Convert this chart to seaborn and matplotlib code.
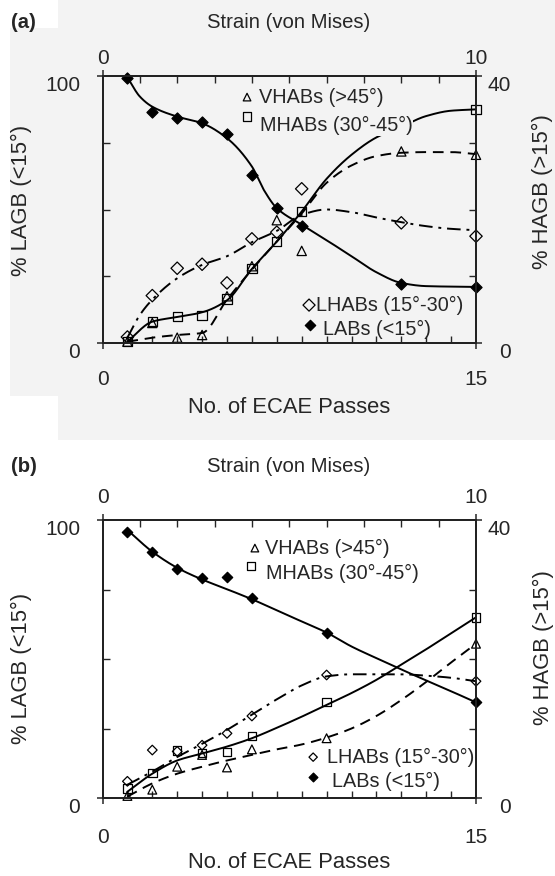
import numpy as np
import pandas as pd
import matplotlib
matplotlib.use("Agg")
import matplotlib.pyplot as plt
from matplotlib.patches import Rectangle
from matplotlib.ticker import FixedLocator
import seaborn as sns

sns.set_theme(style="white")
plt.rcParams['font.family'] = ['Liberation Sans', 'DejaVu Sans']

# ---------------- data: panel (a) ----------------
# LAB values on left axis (% LAGB), HAB values on right axis (% HAGB)
PASS_A = [1, 2, 3, 4, 5, 6, 7, 8, 12, 15]
LAB_A = [99.1, 86.7, 84.2, 82.9, 78.3, 62.8, 50.5, 43.9, 22.0, 21.0]
VHAB_A = [0.2, 3.0, 0.8, 1.2, 7.0, 11.5, 18.4, 13.8, 28.7, 28.2]
LHAB_A = [0.9, 7.1, 11.2, 11.8, 9.0, 15.6, 16.6, 23.1, 18.0, 16.0]
PASS_A_M = [1, 2, 3, 4, 5, 6, 7, 8, 15]
MHAB_A = [0.2, 3.2, 4.0, 4.1, 6.6, 11.2, 15.2, 19.7, 35.0]

# trend-line knots
CX_A = [1, 2, 3, 4, 5, 6, 7, 8, 9, 10, 11, 12, 13, 14, 15]
LAB_FIT_X_A = [1, 1.5, 2, 3, 4, 5, 6, 6.5, 7, 8, 9, 10, 11, 12, 13, 15]
LAB_FIT_A = [99.5, 92.3, 88.5, 84.8, 82.3, 76.7, 66.1, 57.0, 50.5, 44.3, 38.5, 32.5, 26.5, 22.5, 21.3, 21.0]
MHAB_FIT_A = [0.2, 3.2, 3.9, 4.6, 6.4, 11.1, 15.2, 19.7, 24.6, 28.2, 30.8, 32.4, 34.0, 34.8, 35.0]
VHAB_FIT_A = [0.2, 0.8, 1.2, 1.5, 6.5, 11.0, 15.2, 19.4, 24.0, 26.6, 28.0, 28.5, 28.6, 28.6, 28.3]
LHAB_FIT_X_A = [1, 1.5, 2, 3, 4, 5, 6, 7, 8, 9, 10, 11, 12, 13, 14, 15]
LHAB_FIT_A = [0.8, 4.2, 6.5, 9.7, 11.7, 13.0, 15.1, 16.8, 19.2, 20.0, 19.6, 18.8, 18.1, 17.5, 17.1, 16.9]

# ---------------- data: panel (b) ----------------
PASS_B = [1, 2, 3, 4, 5, 6, 9, 15]
LAB_B = [95.8, 88.4, 82.2, 79.2, 79.6, 72.0, 59.5, 34.4]
MHAB_B = [1.4, 3.6, 6.8, 6.5, 6.6, 8.9, 13.8, 26.0]
VHAB_B = [0.3, 1.2, 4.5, 6.2, 4.4, 7.0, 8.6, 22.2]
LHAB_B = [2.4, 6.9, 6.7, 7.6, 9.3, 11.8, 17.7, 16.8]

CX_B = [1, 2, 3, 4, 5, 6, 7, 8, 9, 10, 11, 12, 13, 14, 15]
LAB_FIT_B = [96.4, 88.6, 82.8, 78.6, 75.1, 71.5, 67.5, 63.5, 59.5, 54.5, 50.3, 46.2, 42.3, 38.4, 34.4]
MHAB_FIT_B = [0.9, 3.5, 5.4, 6.4, 7.4, 8.6, 10.1, 11.7, 13.4, 15.1, 17.0, 19.2, 21.4, 23.7, 26.0]
VHAB_FIT_B = [0.2, 2.1, 3.5, 4.5, 5.4, 6.2, 7.0, 7.7, 8.7, 10.0, 11.8, 14.1, 16.7, 19.5, 22.2]
LHAB_FIT_B = [1.9, 3.8, 5.9, 7.8, 9.8, 12.0, 14.2, 16.2, 17.5, 17.8, 17.8, 17.8, 17.6, 17.3, 16.8]

LEG_LABELS = ["VHABs (>45°)", "MHABs (30°-45°)", "LHABs (15°-30°)", "LABs (<15°)"]
PASS_TICKS = [0, 15]
STRAIN_TICKS = [0, 10]
LAGB_TICKS = [0, 100]
HAGB_TICKS = [0, 40]

W, H = 555, 876
BG = "#f3f3f3"


def pchip(x, y, n=300):
    x = np.asarray(x, float)
    y = np.asarray(y, float)
    h = np.diff(x)
    d = np.diff(y) / h
    m = np.zeros_like(y)
    for k in range(1, len(x) - 1):
        if d[k - 1] * d[k] > 0:
            w1 = 2 * h[k] + h[k - 1]
            w2 = h[k] + 2 * h[k - 1]
            m[k] = (w1 + w2) / (w1 / d[k - 1] + w2 / d[k])
    m[0] = d[0]
    m[-1] = d[-1]
    xs = np.linspace(x[0], x[-1], n)
    idx = np.clip(np.searchsorted(x, xs) - 1, 0, len(h) - 1)
    t = (xs - x[idx]) / h[idx]
    h00 = 2 * t**3 - 3 * t**2 + 1
    h10 = t**3 - 2 * t**2 + t
    h01 = -2 * t**3 + 3 * t**2
    h11 = t**3 - t**2
    ys = h00 * y[idx] + h10 * h[idx] * m[idx] + h01 * y[idx + 1] + h11 * h[idx] * m[idx + 1]
    return pd.DataFrame({"x": xs, "y": ys})


def curve(ax, x, y, ls, lw=1.4):
    df = pchip(x, y)
    sns.lineplot(data=df, x="x", y="y", ax=ax, color="black", lw=lw,
                 linestyle=ls, estimator=None, sort=False, zorder=3)


def points(ax, x, y, marker, size, filled=False, lw=0.9):
    df = pd.DataFrame({"x": x, "y": y})
    sns.scatterplot(data=df, x="x", y="y", ax=ax, marker=marker, s=size, zorder=4)
    col = ax.collections[-1]
    col.set_facecolor("black" if filled else "none")
    col.set_edgecolor("black")
    col.set_linewidth(lw)
    col.set_clip_on(False)


def fx(px):
    return px / W


def fy(py):
    return 1 - py / H


fig = plt.figure(figsize=(W / 100, H / 100), dpi=100)
fig.patch.set_facecolor("white")
# light scan-grey backdrop behind panel (a)
fig.patches.append(Rectangle((fx(58), fy(440)), 1 - fx(58), fy(0) - fy(440),
                             transform=fig.transFigure, fc=BG, ec="none", zorder=-10))
fig.patches.append(Rectangle((fx(10), fy(396)), 1 - fx(10), fy(28) - fy(396),
                             transform=fig.transFigure, fc=BG, ec="none", zorder=-10))

FS_TICK = 15
FS_LAB = 15.8
FS_LEG = 14.3
FS_TTL = 14.6


def setup(top_px, bot_px, panel):
    left, right = 102.5, 476
    ax = fig.add_axes([fx(left), fy(bot_px), fx(right) - fx(left), fy(top_px) - fy(bot_px)])
    ax.set_facecolor("none")
    axr = ax.twinx()
    axt = ax.twiny()
    for a in (ax, axr, axt):
        a.set_facecolor("none")
        for s in a.spines.values():
            s.set_color("#222222")
            s.set_linewidth(1.2)
    ax.set_xlim(0, 15)
    ax.set_ylim(0, 100)
    axr.set_ylim(0, 40)
    axt.set_xlim(0, 10)
    bpad = 15 if panel == "a" else 17
    tpad = 1.5 if panel == "a" else 4.5
    ax.xaxis.set_major_locator(FixedLocator(PASS_TICKS))
    ax.xaxis.set_minor_locator(FixedLocator(list(range(1, 15))))
    ax.yaxis.set_major_locator(FixedLocator(LAGB_TICKS))
    ax.yaxis.set_minor_locator(FixedLocator([25, 50, 75]))
    axr.yaxis.set_major_locator(FixedLocator(HAGB_TICKS))
    axr.yaxis.set_minor_locator(FixedLocator([10, 20, 30]))
    axt.xaxis.set_major_locator(FixedLocator(STRAIN_TICKS))
    axt.xaxis.set_minor_locator(FixedLocator(list(range(1, 10))))
    ax.tick_params(axis="x", which="major", direction="inout", length=9, width=1.1,
                   pad=bpad, labelsize=FS_TICK, bottom=True, top=False)
    ax.tick_params(axis="x", which="minor", direction="in", length=5, width=1.0, bottom=True)
    ax.tick_params(axis="y", which="major", direction="inout", length=9, width=1.1,
                   pad=11.5, labelsize=FS_TICK, left=True, right=False)
    ax.tick_params(axis="y", which="minor", direction="in", length=5, width=1.0, left=True)
    axr.tick_params(axis="y", which="major", direction="inout", length=9, width=1.1,
                    pad=20.5, labelsize=FS_TICK, right=True, left=False)
    axr.tick_params(axis="y", which="minor", direction="in", length=5, width=1.0, right=True)
    axt.tick_params(axis="x", which="major", direction="inout", length=9, width=1.1,
                    pad=tpad, labelsize=FS_TICK, top=True, bottom=False)
    axt.tick_params(axis="x", which="minor", direction="in", length=5, width=1.0, top=True)
    axt.tick_params(axis="y", left=False, right=False, labelleft=False, labelright=False)
    for a in (ax, axr, axt):
        a.set_xlabel("")
        a.set_ylabel("")
        a.grid(False)
    for lbl in ax.get_yticklabels():
        lbl.set_verticalalignment("top")
    for lbl in axr.get_yticklabels():
        lbl.set_verticalalignment("top")
        lbl.set_horizontalalignment("right")
    return ax, axr, axt


# ---------------- panel (a) ----------------
ax, axr, axt = setup(76, 343, "a")
curve(ax, LAB_FIT_X_A, LAB_FIT_A, "-")
curve(axr, CX_A, MHAB_FIT_A, "-")
curve(axr, CX_A, VHAB_FIT_A, (0, (5.5, 3.5)))
curve(axr, LHAB_FIT_X_A, LHAB_FIT_A, (0, (7, 3, 1.5, 3)))
points(ax, PASS_A, LAB_A, "D", 32, filled=True)
points(axr, PASS_A, VHAB_A, "^", 45)
points(axr, PASS_A_M, MHAB_A, "s", 45)
points(axr, PASS_A, LHAB_A, "D", 40)
for a in (ax, axr, axt):
    a.set_xlabel(""); a.set_ylabel("")

t = axr.transAxes
axr.scatter([0.387], [0.921], marker="^", s=30, fc="none", ec="black", lw=0.9, transform=t, zorder=6)
axr.text(0.42, 0.921, LEG_LABELS[0], transform=t, fontsize=FS_LEG, va="center", ha="left", zorder=6)
axr.scatter([0.387], [0.848], marker="s", s=40, fc="none", ec="black", lw=0.9, transform=t, zorder=6)
axr.text(0.421, 0.813, LEG_LABELS[1], transform=t, fontsize=FS_LEG, va="center", ha="left", zorder=6,
         bbox=dict(fc=BG, ec="none", pad=0.5))
axr.scatter([0.553], [0.142], marker="D", s=38, fc="none", ec="black", lw=0.9, transform=t, zorder=6)
axr.text(0.572, 0.142, LEG_LABELS[2], transform=t, fontsize=FS_LEG, va="center", ha="left", zorder=6)
axr.scatter([0.556], [0.069], marker="D", s=28, fc="black", ec="black", lw=0.9, transform=t, zorder=6)
axr.text(0.59, 0.049, LEG_LABELS[3], transform=t, fontsize=FS_LEG, va="center", ha="left", zorder=6)

fig.text(fx(11), fy(22), "(a)", fontsize=FS_TTL, fontweight="bold", ha="left", va="center")
fig.text(fx(289), fy(22), "Strain (von Mises)", fontsize=FS_TTL, ha="center", va="center")
fig.text(fx(289), fy(407), "No. of ECAE Passes", fontsize=FS_LAB, ha="center", va="center")
fig.text(fx(21), fy(200), "% LAGB (<15°)", fontsize=FS_LAB, ha="center", va="center", rotation=90)
fig.text(fx(542), fy(192), "% HAGB (>15°)", fontsize=FS_LAB, ha="center", va="center", rotation=90)

# ---------------- panel (b) ----------------
bx, bxr, bxt = setup(520, 798, "b")
curve(bx, CX_B, LAB_FIT_B, "-")
curve(bxr, CX_B, MHAB_FIT_B, "-")
curve(bxr, CX_B, VHAB_FIT_B, (0, (5.5, 3.5)))
curve(bxr, CX_B, LHAB_FIT_B, (0, (7, 3, 1.5, 3)))
points(bx, PASS_B, LAB_B, "D", 28, filled=True)
points(bxr, PASS_B, VHAB_B, "^", 40)
points(bxr, PASS_B, MHAB_B, "s", 38)
points(bxr, PASS_B, LHAB_B, "D", 24)
for a in (bx, bxr, bxt):
    a.set_xlabel(""); a.set_ylabel("")

t = bxr.transAxes
bxr.scatter([0.408], [0.899], marker="^", s=30, fc="none", ec="black", lw=0.9, transform=t, zorder=6)
bxr.text(0.435, 0.899, LEG_LABELS[0], transform=t, fontsize=FS_LEG, va="center", ha="left", zorder=6)
bxr.scatter([0.397], [0.835], marker="s", s=30, fc="none", ec="black", lw=0.9, transform=t, zorder=6)
bxr.text(0.437, 0.809, LEG_LABELS[1], transform=t, fontsize=FS_LEG, va="center", ha="left", zorder=6)
bxr.scatter([0.564], [0.147], marker="D", s=18, fc="none", ec="black", lw=0.9, transform=t, zorder=6)
bxr.text(0.601, 0.147, LEG_LABELS[2], transform=t, fontsize=FS_LEG, va="center", ha="left", zorder=6)
bxr.scatter([0.564], [0.076], marker="D", s=20, fc="black", ec="black", lw=0.9, transform=t, zorder=6)
bxr.text(0.614, 0.058, LEG_LABELS[3], transform=t, fontsize=FS_LEG, va="center", ha="left", zorder=6)

fig.text(fx(11), fy(467), "(b)", fontsize=FS_TTL, fontweight="bold", ha="left", va="center")
fig.text(fx(289), fy(467), "Strain (von Mises)", fontsize=FS_TTL, ha="center", va="center")
fig.text(fx(289), fy(863), "No. of ECAE Passes", fontsize=FS_LAB, ha="center", va="center")
fig.text(fx(21), fy(668), "% LAGB (<15°)", fontsize=FS_LAB, ha="center", va="center", rotation=90)
fig.text(fx(543), fy(648), "% HAGB (>15°)", fontsize=FS_LAB, ha="center", va="center", rotation=90)

fig.savefig("out.png", dpi=100, facecolor=fig.get_facecolor())
